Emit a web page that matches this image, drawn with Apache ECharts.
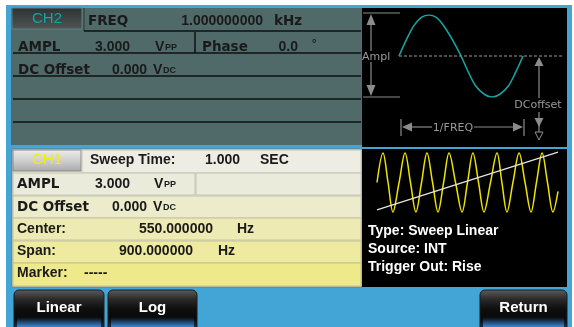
<!DOCTYPE html>
<html>
<head>
<meta charset="utf-8">
<script src="https://cdn.jsdelivr.net/npm/echarts@6/dist/echarts.min.js"></script>
<style>
html,body{margin:0;padding:0;background:#fff}
#main{width:574px;height:327px}
</style>
</head>
<body>
<div id="main"></div>
<script>
// CH2 preview wave: one cycle, phase in cycles, level normalised to Ampl
const ch2Phase = [0, 0.06, 0.12, 0.18, 0.24, 0.3, 0.36, 0.43, 0.5, 0.56, 0.62, 0.69, 0.75, 0.81, 0.88, 0.94, 1];
const ch2Level = [0, 0.4, 0.74, 0.94, 1, 0.94, 0.74, 0.4, 0, -0.4, -0.74, -0.94, -1, -0.94, -0.74, -0.4, 0];
// dashed DC offset level
const dcPhase = [0, 1.33];
const dcLevel = [0, 0];

// CH1 sweep preview: time in ms over the 1.000 SEC sweep
const sweepTime = [0, 33, 61, 88, 122, 155, 185, 215, 246, 276, 307, 337, 368, 398, 434, 470,
  500, 530, 561, 591, 627, 663, 690, 718, 751, 785, 818, 851, 881, 912, 942, 972, 1000];
const sweepLevel = [0, 1, 0, -1, 0, 1, 0, -1, 0, 1, 0, -1, 0, 1, 0, -1,
  0, 1, 0, -1, 0, 1, 0, -1, 0, 1, 0, -1, 0, 1, 0, -1, -0.3];
// frequency ramp drawn over the sweep
const rampTime = [0, 1000];
const rampLevel = [-0.93, 1.03];

// soft key labels
const softKeys = ['Linear', 'Log', 'Return'];

const chart = echarts.init(document.getElementById('main'));

const BLUE = '#43a4d6';
const GREY = '#8c8c8c';
const LBL = 'bold 13.5px "DejaVu Sans"';
const NUM = 'bold 14px "Liberation Sans", Arial';

function zip(a, b) { return a.map((v, i) => [v, b[i]]); }

function txt(x, y, s, font, fill, align) {
  return { type: 'text', x: x, y: y, z: 20, style: { text: s, font: font, fill: fill || '#1a1a1a', textAlign: align || 'left', textVerticalAlign: 'middle' } };
}
function rect(x, y, w, h, fill, stroke, r) {
  return { type: 'rect', z: 5, shape: { x: x, y: y, width: w, height: h, r: r || 0 }, style: { fill: fill, stroke: stroke || null, lineWidth: 1 } };
}
function ln(x1, y1, x2, y2, c, w) {
  return { type: 'line', z: 10, shape: { x1: x1, y1: y1, x2: x2, y2: y2 }, style: { stroke: c, lineWidth: w || 1 } };
}
function tri(pts, fill, stroke) {
  return { type: 'polygon', z: 10, shape: { points: pts }, style: { fill: fill, stroke: stroke || null, lineWidth: 1 } };
}
// "Vpp" / "Vdc" with small caps suffix
function unit(x, y, small) {
  return [txt(x, y, 'V', NUM), txt(x + 10, y + 1, small, 'bold 9px "Liberation Sans", Arial')];
}
function vgrad(stops) {
  return new echarts.graphic.LinearGradient(0, 0, 0, 1, stops.map((c, i) => ({ offset: i / (stops.length - 1), color: c })));
}

let g = [];
// background frame
g.push(rect(0, 0, 574, 327, '#ffffff'));
g.push(rect(6, 5, 566, 322, BLUE));

// ---- CH2 (top) parameter panel ----
g.push(rect(11, 8, 351, 137, '#4f6a68'));
g.push(rect(12, 8, 70, 21, vgrad(['#2c3131', '#3e4444', '#505656']), '#61807e'));
g.push(txt(47, 19, 'CH2', '15px "Liberation Sans", Arial', '#18a3a0', 'center'));
g.push(ln(84, 8, 84, 31, '#2c3a39', 1));
g.push(txt(88, 21, 'FREQ', LBL));
g.push(txt(263, 21, '1.000000000', NUM, null, 'right'));
g.push(txt(274, 21, 'kHz', LBL));
g.push(ln(84, 31, 361, 31, '#111', 1.5));
g.push(txt(18, 47, 'AMPL', LBL));
g.push(txt(130, 47, '3.000', NUM, null, 'right'));
g = g.concat(unit(155, 47, 'PP'));
g.push(ln(195, 32, 195, 53, '#111', 1.5));
g.push(txt(202, 47, 'Phase', LBL));
g.push(txt(298, 47, '0.0', NUM, null, 'right'));
g.push(txt(312, 44, '°', 'bold 11px "Liberation Sans", Arial'));
g.push(ln(13, 53, 361, 53, '#111', 1.5));
g.push(txt(18, 70, 'DC Offset', LBL));
g.push(txt(147, 70, '0.000', NUM, null, 'right'));
g = g.concat(unit(153, 70, 'DC'));
g.push(ln(13, 76, 361, 76, '#111', 1.5));
g.push(ln(13, 99, 361, 99, '#111', 1.5));
g.push(ln(13, 122, 361, 122, '#111', 1.5));

// ---- CH2 waveform box ----
g.push(rect(362, 8, 205, 139, '#000'));
g.push(ln(363, 13, 400, 13, GREY, 1.2));
g.push(ln(363, 97, 400, 97, GREY, 1.2));
g.push(tri([[371, 14], [366.5, 25], [375.5, 25]], GREY));
g.push(ln(371, 25, 371, 51, GREY, 1.2));
g.push(txt(362, 57, 'Ampl', '11px "DejaVu Sans"', '#9a9a9a'));
g.push(ln(371, 62, 371, 86, GREY, 1.2));
g.push(tri([[371, 96], [366.5, 85], [375.5, 85]], GREY));
g.push(tri([[539, 57], [534.5, 66], [543.5, 66]], GREY));
g.push(ln(539, 66, 539, 98, GREY, 1.2));
g.push(txt(538, 105, 'DCoffset', '11px "DejaVu Sans"', '#9a9a9a', 'center'));
g.push(ln(539, 112, 539, 132, GREY, 1.2));
g.push(tri([[539, 127], [534.5, 118], [543.5, 118]], GREY));
g.push(tri([[539, 140], [535, 132], [543, 132]], '#000', GREY));
g.push(ln(401, 119, 401, 136, GREY, 1.2));
g.push(ln(524, 119, 524, 136, GREY, 1.2));
g.push(tri([[402, 127], [412, 122.5], [412, 131.5]], GREY));
g.push(ln(412, 127, 432, 127, GREY, 1.2));
g.push(txt(453, 128, '1/FREQ', '11px "DejaVu Sans"', '#9a9a9a', 'center'));
g.push(ln(474, 127, 513, 127, GREY, 1.2));
g.push(tri([[523, 127], [513, 122.5], [513, 131.5]], GREY));

// ---- CH1 (bottom) sweep panel ----
g.push(rect(12, 149, 350, 138, '#ecebd8', '#7a7a72'));
g.push(rect(13, 150, 68, 21, vgrad(['#ececec', '#cfcfcf', '#a8a8a8']), '#8a8a8a'));
g.push(txt(47, 160, 'CH1', '15px "Liberation Sans", Arial', '#f2ef00', 'center'));
g.push(rect(82, 150, 279, 23, '#edede3', '#c4c4b8'));
g.push(txt(90, 160, 'Sweep Time:', NUM));
g.push(txt(240, 160, '1.000', NUM, null, 'right'));
g.push(txt(260, 160, 'SEC', NUM));
g.push(rect(13, 173, 182, 22, '#ebebdc', '#c4c4b4'));
g.push(rect(196, 173, 165, 22, '#ebebdc', '#c4c4b4'));
g.push(txt(17, 184, 'AMPL', LBL));
g.push(txt(130, 184, '3.000', NUM, null, 'right'));
g = g.concat(unit(154, 184, 'PP'));
g.push(rect(13, 196, 348, 22, '#ecebcb', '#c4c4b0'));
g.push(txt(17, 207, 'DC Offset', LBL));
g.push(txt(147, 207, '0.000', NUM, null, 'right'));
g = g.concat(unit(153, 207, 'DC'));
g.push(rect(13, 218, 348, 22, '#edeab4', '#c4c2a0'));
g.push(txt(17, 229, 'Center:', NUM));
g.push(txt(213, 229, '550.000000', NUM, null, 'right'));
g.push(txt(237, 229, 'Hz', NUM));
g.push(rect(13, 241, 348, 22, '#eeea9f', '#c4c296'));
g.push(txt(17, 251, 'Span:', NUM));
g.push(txt(193, 251, '900.000000', NUM, null, 'right'));
g.push(txt(218, 251, 'Hz', NUM));
g.push(rect(13, 263, 348, 23, '#eeea8b', '#c4c28a'));
g.push(txt(17, 273, 'Marker:', NUM));
g.push(txt(84, 273, '-----', NUM));

// ---- CH1 waveform box ----
g.push(rect(362, 149, 205, 138, '#000'));
g.push(txt(368, 231, 'Type: Sweep Linear', NUM, '#ffffff'));
g.push(txt(368, 249, 'Source: INT', NUM, '#ffffff'));
g.push(txt(368, 267, 'Trigger Out: Rise', NUM, '#ffffff'));

// ---- soft keys ----
const keyX = [14, 108, 480];
const keyW = [90, 89, 87];
softKeys.forEach(function (k, i) {
  g.push({ type: 'rect', z: 5, shape: { x: keyX[i], y: 290, width: keyW[i], height: 38, r: [5, 5, 0, 0] },
    style: { fill: vgrad(['#5e5e5e', '#2a2a2a', '#0e0e0e', '#0a0a0a', '#16375c']), stroke: '#1c1c1c', lineWidth: 1 } });
  // blue glow along the bottom edge
  g.push({ type: 'rect', z: 6, shape: { x: keyX[i] + 3, y: 317, width: keyW[i] - 6, height: 10 },
    style: { fill: new echarts.graphic.LinearGradient(0, 0, 0, 1, [
      { offset: 0, color: 'rgba(40,110,190,0)' }, { offset: 1, color: 'rgba(70,150,225,0.85)' }]) } });
  g.push(txt(keyX[i] + keyW[i] / 2, 308, k, 'bold 15px "Liberation Sans", Arial', '#ffffff', 'center'));
});

chart.setOption({
  animation: false,
  graphic: { elements: g },
  grid: [
    { left: 399, top: 15, width: 165, height: 82 },
    { left: 377, top: 153, width: 181, height: 59 }
  ],
  xAxis: [
    { type: 'value', gridIndex: 0, min: 0, max: 1.33, show: false },
    { type: 'value', gridIndex: 1, min: 0, max: 1000, show: false }
  ],
  yAxis: [
    { type: 'value', gridIndex: 0, min: -1, max: 1, show: false },
    { type: 'value', gridIndex: 1, min: -1, max: 1, show: false }
  ],
  series: [
    { type: 'line', xAxisIndex: 0, yAxisIndex: 0, z: 30, data: zip(dcPhase, dcLevel), symbol: 'none',
      lineStyle: { color: '#9a9a9a', width: 1, type: [3, 2] } },
    { type: 'line', xAxisIndex: 0, yAxisIndex: 0, z: 31, data: zip(ch2Phase, ch2Level), symbol: 'none', smooth: 0.3,
      lineStyle: { color: '#18a3a0', width: 1.6 } },
    { type: 'line', xAxisIndex: 1, yAxisIndex: 1, z: 30, data: zip(sweepTime, sweepLevel), symbol: 'none', smooth: 0.35, clip: false,
      lineStyle: { color: '#ece400', width: 1.5 } },
    { type: 'line', xAxisIndex: 1, yAxisIndex: 1, z: 31, data: zip(rampTime, rampLevel), symbol: 'none', clip: false,
      lineStyle: { color: '#e6e6e6', width: 1.2 } }
  ]
});
</script>
</body>
</html>
